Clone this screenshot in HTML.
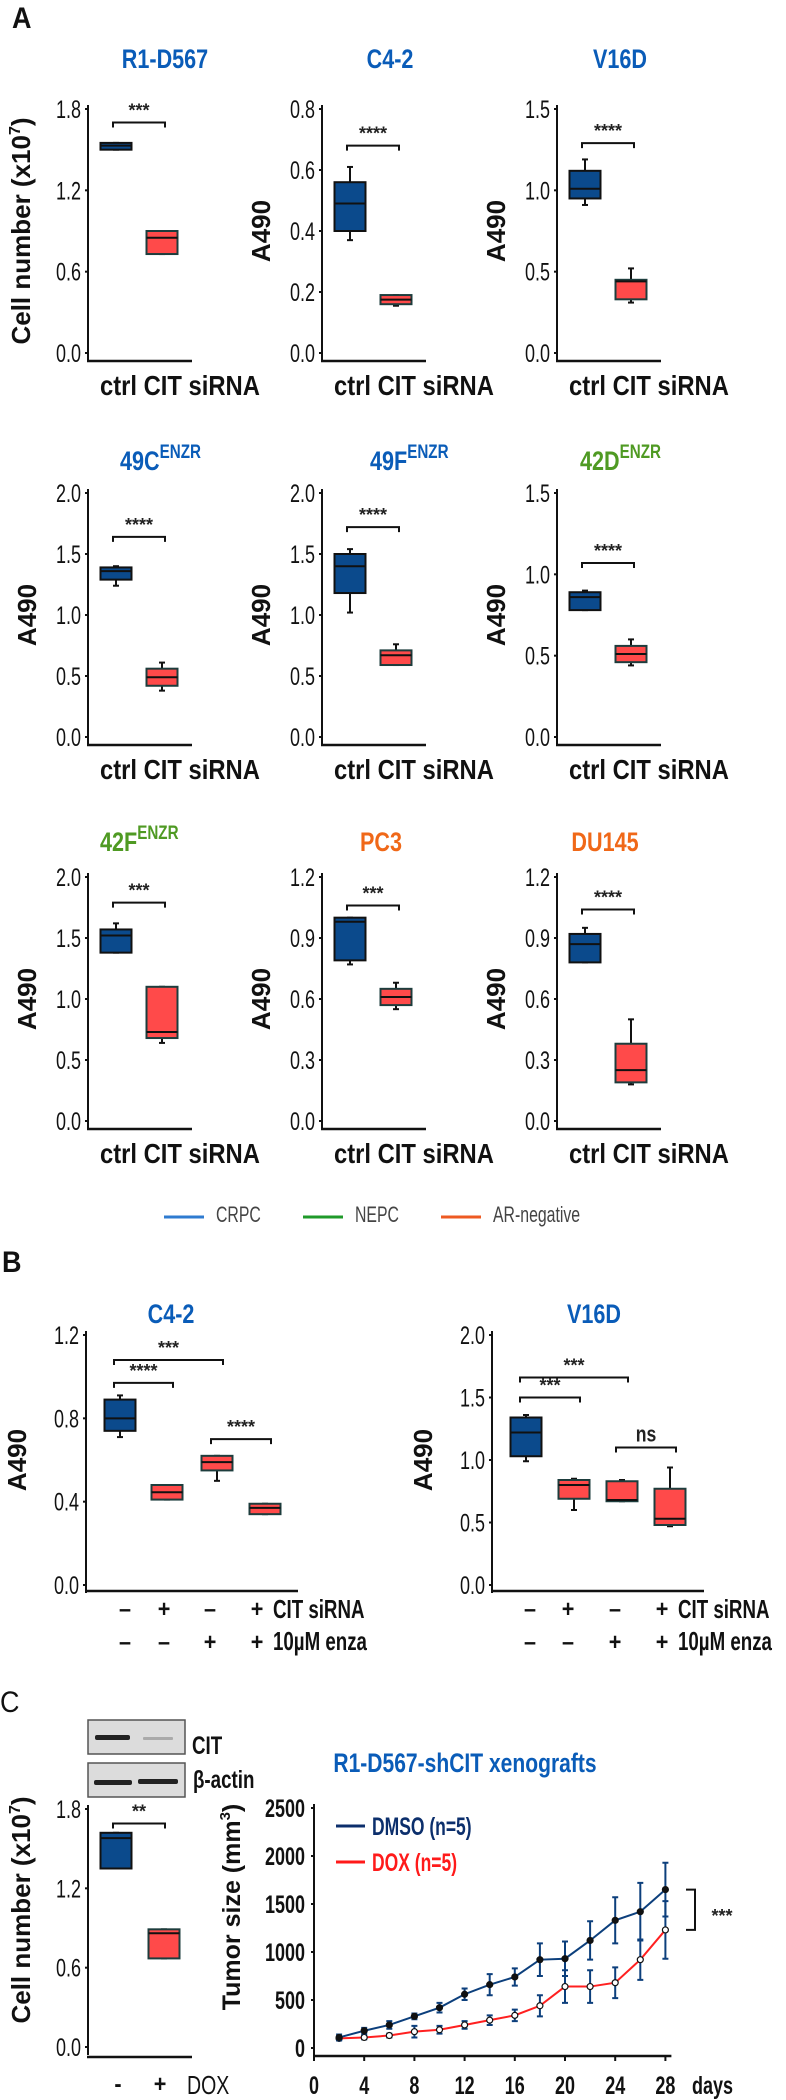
<!DOCTYPE html>
<html><head><meta charset="utf-8"><style>
html,body{margin:0;padding:0;background:#fff;}
svg{display:block;}
text{font-family:"Liberation Sans",sans-serif;}
</style></head><body>
<svg id="fig" xmlns="http://www.w3.org/2000/svg" width="786" height="2100" viewBox="0 0 786 2100"></svg>
<script>
// ---------- Panel A data ----------
const aTitles = ["R1-D567","C4-2","V16D","49C","49F","42D","42F","PC3","DU145"];
const aTitleSup = ["","","","ENZR","ENZR","ENZR","ENZR","",""];
const aTitleColors = ["#0a5cb8","#0a5cb8","#0a5cb8","#0a5cb8","#0a5cb8","#4f9a23","#4f9a23","#f06818","#f06818"];
const aMax = [1.8,0.8,1.5,2.0,2.0,1.5,2.0,1.2,1.2];
const aTicks = [["0.0","0.6","1.2","1.8"],["0.0","0.2","0.4","0.6","0.8"],["0.0","0.5","1.0","1.5"],
  ["0.0","0.5","1.0","1.5","2.0"],["0.0","0.5","1.0","1.5","2.0"],["0.0","0.5","1.0","1.5"],
  ["0.0","0.5","1.0","1.5","2.0"],["0.0","0.3","0.6","0.9","1.2"],["0.0","0.3","0.6","0.9","1.2"]];
// [whiskerMin, q1, median, q3, whiskerMax]
const aCtrl = [[1.5,1.5,1.53,1.55,1.55],[0.37,0.40,0.49,0.56,0.61],[0.91,0.95,1.01,1.12,1.19],
  [1.24,1.29,1.36,1.39,1.40],[1.02,1.18,1.40,1.50,1.54],[0.78,0.78,0.86,0.89,0.90],
  [1.38,1.38,1.52,1.57,1.62],[0.77,0.79,0.98,1.00,1.00],[0.78,0.78,0.87,0.92,0.95]];
const aCIT = [[0.73,0.73,0.85,0.90,0.90],[0.155,0.16,0.175,0.19,0.19],[0.31,0.33,0.44,0.45,0.52],
  [0.38,0.42,0.49,0.56,0.61],[0.59,0.59,0.67,0.71,0.76],[0.44,0.46,0.51,0.56,0.60],
  [0.64,0.68,0.73,1.10,1.10],[0.55,0.57,0.61,0.65,0.68],[0.18,0.19,0.25,0.38,0.50]];
const aBracket = [1.70,0.68,1.29,1.64,1.72,1.07,1.79,1.06,1.04];
const aStars = ["***","****","****","****","****","****","***","***","****"];
const aYTitle = ["Cell number","A490","A490","A490","A490","A490","A490","A490","A490"];

// ---------- Panel B data ----------
const bTitles = ["C4-2","V16D"];
const bMax = [1.2,2.0];
const bTicks = [["0.0","0.4","0.8","1.2"],["0.0","0.5","1.0","1.5","2.0"]];
const bBoxesLeft = [[0.71,0.74,0.80,0.89,0.91],[0.41,0.41,0.445,0.48,0.48],[0.50,0.55,0.59,0.62,0.62],[0.34,0.34,0.37,0.39,0.39]];
const bBoxesRight = [[0.99,1.03,1.22,1.34,1.36],[0.60,0.69,0.80,0.84,0.85],[0.67,0.67,0.68,0.83,0.84],[0.47,0.48,0.53,0.77,0.94]];
const bSirna = ["–","+","–","+"];
const bEnza = ["–","–","+","+"];
// brackets: [fromGroup, toGroup, value, label]
const bBracketsLeft = [[0,2,1.08,"***"],[0,1,0.97,"****"],[2,3,0.70,"****"]];
const bBracketsRight = [[0,2,1.66,"***"],[0,1,1.50,"***"],[2,3,1.10,"ns"]];

// ---------- Panel C data ----------
const cMax = 1.8;
const cTicks = ["0.0","0.6","1.2","1.8"];
const cBoxes = [[1.35,1.35,1.58,1.62,1.62],[0.67,0.67,0.86,0.89,0.89]];
const cGroupLabels = ["-","+"];
const days = [2,4,6,8,10,12,14,16,18,20,22,24,26,28];
const dmso = [110,180,240,330,420,560,660,740,920,930,1120,1330,1420,1650];
const dmsoErr = [30,30,40,30,50,60,110,90,170,180,200,240,300,280];
const dox = [100,110,130,170,190,240,290,340,440,640,640,680,920,1230];
const doxErr = [20,20,20,60,40,40,50,60,110,170,170,160,210,300];
const tumorTicks = [0,500,1000,1500,2000,2500];
const dayTicks = [0,4,8,12,16,20,24,28];

const NS = "http://www.w3.org/2000/svg";
const svg = document.getElementById("fig");
function mk(tag, attrs, parent){
  const e = document.createElementNS(NS, tag);
  for (const k in attrs) e.setAttribute(k, attrs[k]);
  (parent||svg).appendChild(e);
  return e;
}
function ntext(x, y, str, size, anchor, weight, color, sx){
  const t = mk("text", {transform:`translate(${x},${y}) scale(${sx||0.8},1)`, "font-size":size, "text-anchor":anchor||"start", "font-weight":weight||"normal", fill:color||"#111"});
  t.textContent = str;
  return t;
}
function gEl(name){
  const g = mk("g", {});
  
  
  return g;
}
const BLUE = "#0b4a8c", RED = "#ff4a4a";
function drawBox(parent, cx, w, vals, ys, color, name){
  const g = mk("g", {}, parent);
  
  
  const [mn,q1,md,q3,mx] = vals.map(ys);
  const stroke = color===BLUE ? "#111" : "#1d3d3d";
  mk("line",{x1:cx,x2:cx,y1:mx,y2:q3,stroke:"#111","stroke-width":2},g);
  mk("line",{x1:cx,x2:cx,y1:q1,y2:mn,stroke:"#111","stroke-width":2},g);
  mk("line",{x1:cx-3,x2:cx+3,y1:mx,y2:mx,stroke:"#111","stroke-width":2},g);
  mk("line",{x1:cx-3,x2:cx+3,y1:mn,y2:mn,stroke:"#111","stroke-width":2},g);
  mk("rect",{x:cx-w/2,y:q3,width:w,height:Math.max(q1-q3,3),fill:color,stroke:stroke,"stroke-width":2},g);
  mk("line",{x1:cx-w/2,x2:cx+w/2,y1:md,y2:md,stroke:"#111","stroke-width":2},g);
}
function bracket(parent, x1, x2, y, label, name){
  const p = mk("path",{d:`M${x1},${y+5} L${x1},${y} L${x2},${y} L${x2},${y+5}`,fill:"none",stroke:"#111","stroke-width":2},parent);
  
  
  const t = ntext((x1+x2)/2, y-6, label, label==="ns"?22:18, "middle", "bold", "#222", label==="ns"?0.8:1);
  
  
}
function yAxis(parent, ax, zero, h, max, ticks){
  mk("line",{x1:ax,x2:ax,y1:zero-h-4,y2:zero+8,stroke:"#111","stroke-width":2},parent);
  ticks.forEach(tk=>{
    const y = zero - parseFloat(tk)/max*h;
    mk("line",{x1:ax-3,x2:ax,y1:y,y2:y,stroke:"#111","stroke-width":2},parent);
    const t = ntext(ax-7, y+9, tk, 25, "end", "normal", "#111", 0.72);
    
    
  });
}

// ---------- Panel A ----------
const lab = ntext(12, 28, "A", 30, "start", "bold", "#111", 0.9);


const axisXs = [88,322,557];
const rowTops = [109,493,877];
const titleYs = [68,470,851];
const titleXs = [[165,390,620],[145,395,605],[125,381,605]];
for (let i=0;i<9;i++){
  const r = Math.floor(i/3), c = i%3;
  const g = gEl("panel-a-chart-" + aTitles[i].toLowerCase());
  const ax = axisXs[c], top = rowTops[r], h = 244, zero = top + h;
  const ys = v => zero - v/aMax[i]*h;
  const tt = ntext(titleXs[r][c], titleYs[r], aTitles[i], 27, "middle", "bold", aTitleColors[i], 0.8);
  
  
  if (aTitleSup[i]) {
    const s = mk("tspan",{"font-size":19,dy:-12});
    s.textContent = aTitleSup[i];
    tt.appendChild(s);
    tt.setAttribute("text-anchor","start");
    tt.setAttribute("transform",`translate(${titleXs[r][c]-25},${titleYs[r]}) scale(0.8,1)`);
  }
  g.appendChild(tt);
  yAxis(g, ax, zero, h, aMax[i], aTicks[i]);
  mk("line",{x1:ax-1,x2:ax+104,y1:zero+8,y2:zero+8,stroke:"#111","stroke-width":2.5},g);
  drawBox(g, ax+28, 31, aCtrl[i], ys, BLUE, "box-ctrl");
  drawBox(g, ax+74, 31, aCIT[i], ys, RED, "box-cit");
  bracket(g, ax+25, ax+77, ys(aBracket[i]), aStars[i], "significance-bracket");
  const yl = mk("text",{transform:`translate(${ax-(i===0?58:52)},${top+h/2}) rotate(-90)`,"font-size":26,"font-weight":"bold","text-anchor":"middle",fill:"#111"},g);
  
  
  yl.textContent = aYTitle[i];
  if (i===0){
    yl.textContent = "Cell number (x10";
    const s = mk("tspan",{"font-size":16,dy:-10}, yl); s.textContent="7";
    const s2 = mk("tspan",{dy:10}, yl); s2.textContent=")";
  }
  const xl = ntext(ax+12, zero+42, "ctrl  CIT  siRNA", 28, "start", "bold", "#111", 0.85);
  
  
  g.appendChild(xl);
}
// legend
const legendNames = ["CRPC","NEPC","AR-negative"];
const legendColors = ["#2f7bd0","#1f9a2a","#ee5a22"];
const legendXs = [164,303,441];
legendNames.forEach((n,k)=>{
  const g = gEl("legend-entry-" + n.toLowerCase());
  mk("line",{x1:legendXs[k],x2:legendXs[k]+40,y1:1217,y2:1217,stroke:legendColors[k],"stroke-width":3},g);
  const t = ntext(legendXs[k]+52, 1222, n, 22, "start", "normal", "#444", 0.72);
  g.appendChild(t);
});

// ---------- Panel B ----------
const labB = ntext(2, 1272, "B", 30, "start", "bold", "#111", 0.9);


const bAxisX = [86,492];
const bGroupX = [[120,167,217,265],[526,574,622,670]];
const bLabelX = [[125,164,210,257],[530,568,615,662]];
const bBoxes = [bBoxesLeft, bBoxesRight];
const bBrackets = [bBracketsLeft, bBracketsRight];
const bTitleX = [171,594];
for (let p=0;p<2;p++){
  const g = gEl("panel-b-chart-" + bTitles[p].toLowerCase());
  const ax = bAxisX[p], zero = 1585, h = 250;
  const ys = v => zero - v/bMax[p]*h;
  const tt = ntext(bTitleX[p], 1323, bTitles[p], 27, "middle", "bold", "#0a5cb8", 0.8);
  g.appendChild(tt);
  yAxis(g, ax, zero, h, bMax[p], bTicks[p]);
  mk("line",{x1:ax-1,x2:ax+212,y1:zero+6,y2:zero+6,stroke:"#111","stroke-width":2.5},g);
  bBoxes[p].forEach((b,k)=>drawBox(g, bGroupX[p][k], 31, b, ys, k===0?BLUE:RED, "box-group-"+(k+1)));
  bBrackets[p].forEach(br=>bracket(g, bGroupX[p][br[0]]-6, bGroupX[p][br[1]]+6, ys(br[2]), br[3], "significance-bracket"));
  const yl = mk("text",{transform:`translate(${ax-60},${1460}) rotate(-90)`,"font-size":26,"font-weight":"bold","text-anchor":"middle",fill:"#111"},g);
  
  
  yl.textContent = "A490";
  for (let k=0;k<4;k++){
    const t1 = ntext(bLabelX[p][k], 1617, bSirna[k], 24, "middle", "bold", "#111", 0.9);
    
    
    const t2 = ntext(bLabelX[p][k], 1650, bEnza[k], 24, "middle", "bold", "#111", 0.9);
    
    
    g.appendChild(t1); g.appendChild(t2);
  }
  g.appendChild(ntext(bLabelX[p][3]+16, 1618, "CIT siRNA", 26, "start", "bold", "#111", 0.72));
  g.appendChild(ntext(bLabelX[p][3]+16, 1650, "10µM enza", 26, "start", "bold", "#111", 0.72));
}

// ---------- Panel C ----------
const labC = ntext(0, 1712, "C", 30, "start", "normal", "#111", 0.9);


const blot = gEl("western-blot");
mk("rect",{x:88,y:1720,width:97,height:34,fill:"#dcdcdc",stroke:"#555","stroke-width":1.5},blot);
mk("rect",{x:88,y:1763,width:97,height:34,fill:"#dcdcdc",stroke:"#555","stroke-width":1.5},blot);
mk("rect",{x:95,y:1735,width:35,height:5,rx:2,fill:"#222"},blot);
mk("rect",{x:143,y:1737,width:30,height:3,rx:1,fill:"#aaa"},blot);
mk("rect",{x:94,y:1780,width:38,height:5,rx:2,fill:"#222"},blot);
mk("rect",{x:138,y:1779,width:40,height:5,rx:2,fill:"#222"},blot);
blot.appendChild(ntext(192, 1754, "CIT", 25, "start", "bold", "#111", 0.75));
blot.appendChild(ntext(193, 1788, "β-actin", 25, "start", "bold", "#111", 0.75));

{
  const g = gEl("panel-c-cell-number-chart");
  const ax = 88, zero = 2047, h = 238;
  const ys = v => zero - v/cMax*h;
  yAxis(g, ax, zero, h, cMax, cTicks);
  mk("line",{x1:ax-1,x2:ax+104,y1:zero+10,y2:zero+10,stroke:"#111","stroke-width":2.5},g);
  drawBox(g, 116, 31, cBoxes[0], ys, BLUE, "box-dmso");
  drawBox(g, 164, 31, cBoxes[1], ys, RED, "box-dox");
  bracket(g, 113, 165, ys(1.69), "**", "significance-bracket");
  const yl = mk("text",{transform:`translate(30,1910) rotate(-90)`,"font-size":26,"font-weight":"bold","text-anchor":"middle",fill:"#111"},g);
  
  
  yl.textContent = "Cell number (x10";
  const s = mk("tspan",{"font-size":16,dy:-10}, yl); s.textContent="7";
  const s2 = mk("tspan",{dy:10}, yl); s2.textContent=")";
  g.appendChild(ntext(118, 2092, cGroupLabels[0], 24, "middle", "bold", "#111", 0.9));
  g.appendChild(ntext(160, 2092, cGroupLabels[1], 24, "middle", "bold", "#111", 0.9));
  g.appendChild(ntext(187, 2094, "DOX", 26, "start", "normal", "#111", 0.75));
}
{
  const g = gEl("panel-c-xenograft-chart");
  const ax = 314, zero = 2048, h = 240, tmax = 2500;
  const ys = v => zero - v/tmax*h;
  const xs = d => ax + d*12.55;
  const tt = ntext(465, 1772, "R1-D567-shCIT  xenografts", 27, "middle", "bold", "#0a5cb8", 0.78);
  g.appendChild(tt);
  mk("line",{x1:ax,x2:ax,y1:ys(tmax)-4,y2:zero+8,stroke:"#111","stroke-width":2},g);
  mk("line",{x1:ax,x2:xs(28)+6,y1:zero+8,y2:zero+8,stroke:"#111","stroke-width":2.5},g);
  tumorTicks.forEach(v=>{
    mk("line",{x1:ax-3,x2:ax,y1:ys(v),y2:ys(v),stroke:"#111","stroke-width":2},g);
    const t = ntext(ax-9, ys(v)+9, String(v), 25, "end", "bold", "#111", 0.72);
    
    
    g.appendChild(t);
  });
  dayTicks.forEach(d=>{
    mk("line",{x1:xs(d),x2:xs(d),y1:zero+8,y2:zero+13,stroke:"#111","stroke-width":2},g);
    const t = ntext(xs(d), 2094, String(d), 25, "middle", "bold", "#111", 0.72);
    
    
    g.appendChild(t);
  });
  g.appendChild(ntext(692, 2094, "days", 25, "start", "bold", "#111", 0.72));
  const yl = mk("text",{transform:`translate(240,1907) rotate(-90)`,"font-size":25,"font-weight":"bold","text-anchor":"middle",fill:"#111"},g);
  
  
  yl.textContent = "Tumor size (mm";
  const s = mk("tspan",{"font-size":15,dy:-10}, yl); s.textContent="3";
  const s2 = mk("tspan",{dy:10}, yl); s2.textContent=")";
  function series(vals, errs, color, name, filled){
    const sg = mk("g",{},g);
    
    
    vals.forEach((v,k)=>{
      const x = xs(days[k]);
      const e = mk("path",{d:`M${x},${ys(v+errs[k])} L${x},${ys(v-errs[k])} M${x-3},${ys(v+errs[k])} L${x+3},${ys(v+errs[k])} M${x-3},${ys(v-errs[k])} L${x+3},${ys(v-errs[k])}`,stroke:"#0c3f7c","stroke-width":2,fill:"none"},sg);
      
      
    });
    const d = vals.map((v,k)=>(k?"L":"M")+xs(days[k])+","+ys(v)).join(" ");
    mk("path",{d:d,stroke:color,"stroke-width":2,fill:"none"},sg);
    vals.forEach((v,k)=>{
      const c = mk("circle",{cx:xs(days[k]),cy:ys(v),r:3,fill:filled?"#111":"#fff",stroke:"#111","stroke-width":1.2},sg);
      
      
    });
  }
  series(dox, doxErr, "#ff2020", "series-dox", false);
  series(dmso, dmsoErr, "#0c3f7c", "series-dmso", true);
  const lg1 = gEl("legend-entry-dmso");
  mk("line",{x1:336,x2:365,y1:1826,y2:1826,stroke:"#0c2f6c","stroke-width":3},lg1);
  lg1.appendChild(ntext(372, 1835, "DMSO (n=5)", 25, "start", "bold", "#0c2f6c", 0.7));
  const lg2 = gEl("legend-entry-dox");
  mk("line",{x1:336,x2:365,y1:1862,y2:1862,stroke:"#ff1a1a","stroke-width":3},lg2);
  lg2.appendChild(ntext(372, 1871, "DOX (n=5)", 25, "start", "bold", "#ff1a1a", 0.7));
  const sb = mk("path",{d:`M686,${ys(1650)} L695,${ys(1650)} L695,${ys(1230)} L686,${ys(1230)}`,stroke:"#111","stroke-width":2,fill:"none"},g);
  
  
  g.appendChild(ntext(722, 1922, "***", 18, "middle", "bold", "#222", 1));
}
</script>
</body></html>
